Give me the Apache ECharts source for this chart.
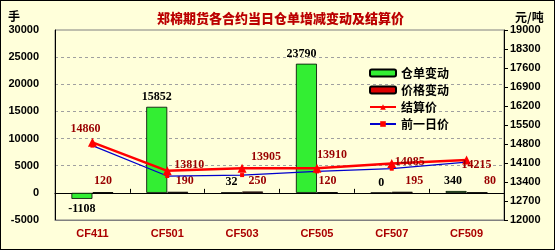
<!DOCTYPE html>
<html><head><meta charset="utf-8">
<script src="https://cdn.jsdelivr.net/npm/echarts@6/dist/echarts.min.js"></script>
<style>
html,body{margin:0;padding:0;background:#FFFFDA;}
#c{width:555px;height:250px;box-sizing:border-box;border:1px solid #000;}
</style></head>
<body><div id="c"></div>
<script>
var categories = ['CF411','CF501','CF503','CF505','CF507','CF509'];
var warrantChange = [-1108, 15852, 32, 23790, 0, 340];
var priceChange = [120, 190, 250, 120, 195, 80];
var settlePrice = [14860, 13810, 13905, 13910, 14085, 14215];
var prevPrice = [14740, 13620, 13655, 13790, 13890, 14135];
var leftTicks = {min: -5000, max: 30000, interval: 5000};
var rightTicks = {min: 12000, max: 19000, interval: 700};

// label styling (not data)
var settleLabelOffsets = [[-7,-13],[22,-6],[24,-11],[15,-13],[18,-2],[10,5]];
var warrantLabelOffsets = [[0,0],[0,0],[0,0],[-5,0],[0,0],[-3,0]];
var priceLabelOffsets = [[0,0],[7,0],[5,0],[0,0],[12,0],[13,0]];

var numFont = 'Liberation Serif';
var labelBase = {fontFamily: numFont, fontWeight: 'bold', fontSize: 12};
function plain(v) { return String(v); }

var chart = echarts.init(document.getElementById('c'));
chart.setOption({
  backgroundColor: '#FFFFDA',
  animation: false,
  title: {
    text: '郑棉期货各合约当日仓单增减变动及结算价',
    left: 151, top: 6,
    textStyle: {color: '#BB0000', fontSize: 13, fontWeight: 900, fontFamily: 'Noto Sans CJK SC'}
  },
  graphic: [
    {type: 'text', left: 7, top: 9, style: {text: '手', fontSize: 12, fontWeight: 'bold', fontFamily: 'Noto Sans CJK SC', fill: '#000'}},
    {type: 'text', left: 514, top: 10, style: {text: '元/吨', fontSize: 12, fontWeight: 'bold', fontFamily: 'Noto Sans CJK SC', fill: '#000'}}
  ],
  legend: {
    orient: 'vertical', left: 363, top: 61,
    itemWidth: 26, itemHeight: 7, itemGap: 5,
    textStyle: {fontSize: 12, fontWeight: 'bold', fontFamily: 'Noto Sans CJK SC', color: '#000'},
    data: ['仓单变动','价格变动','结算价',{name: '前一日价', itemStyle: {color: '#FF0000'}}]
  },
  grid: {left: 54, right: 50, top: 29, bottom: 29, show: true, borderColor: '#808080', borderWidth: 1, backgroundColor: 'transparent'},
  xAxis: [
    {type: 'category', data: categories, position: 'bottom',
     axisLine: {onZero: false, lineStyle: {color: '#808080'}},
     axisTick: {show: false},
     axisLabel: {color: '#AA0000', fontWeight: 'bold', fontSize: 11, fontFamily: 'Liberation Sans', margin: 8}},
    {type: 'category', data: categories, position: 'bottom',
     axisLine: {onZero: true, onZeroAxisIndex: 0, lineStyle: {color: '#000', width: 1}},
     axisTick: {show: true, inside: true, length: 4, lineStyle: {color: '#000'}},
     axisLabel: {show: false}}
  ],
  yAxis: [
    {type: 'value', min: leftTicks.min, max: leftTicks.max, interval: leftTicks.interval,
     axisLine: {show: true, onZero: false, lineStyle: {color: '#000'}},
     axisTick: {show: false},
     axisLabel: {color: '#000', fontWeight: 'bold', fontSize: 11, fontFamily: 'Liberation Sans', margin: 16, formatter: plain},
     splitLine: {show: true, showMinLine: false, showMaxLine: false, lineStyle: {color: '#A0A0A0', type: [3,3]}}},
    {type: 'value', min: rightTicks.min, max: rightTicks.max, interval: rightTicks.interval, position: 'right',
     axisLine: {show: true, onZero: false, lineStyle: {color: '#000'}},
     axisTick: {show: true, length: 4, lineStyle: {color: '#000'}},
     axisLabel: {color: '#000', fontWeight: 'bold', fontSize: 11, fontFamily: 'Liberation Sans', margin: 6, formatter: plain},
     splitLine: {show: false}}
  ],
  series: [
    {name: '仓单变动', type: 'bar', xAxisIndex: 0, yAxisIndex: 0, barWidth: 21, barGap: '0%',
     itemStyle: {color: '#33EE33', borderColor: '#000', borderWidth: 0.8},
     label: Object.assign({show: true, position: 'top', distance: 4, color: '#000'}, labelBase),
     data: warrantChange.map(function (v, i) {
       return {value: v, label: {position: v < 0 ? 'bottom' : 'top', offset: warrantLabelOffsets[i]}};
     })},
    {name: '价格变动', type: 'bar', xAxisIndex: 0, yAxisIndex: 0, barWidth: 21, barGap: '0%',
     itemStyle: {color: '#DD0000', borderColor: '#000', borderWidth: 0.8},
     label: Object.assign({show: true, position: 'top', distance: 5, color: '#990000'}, labelBase),
     data: priceChange.map(function (v, i) {
       return {value: v, label: {offset: priceLabelOffsets[i]}};
     })},
    {name: '前一日价', type: 'line', xAxisIndex: 0, yAxisIndex: 1,
     symbol: 'rect', symbolSize: 4, z: 3,
     itemStyle: {color: '#FF0000'},
     lineStyle: {color: '#0000CC', width: 1.2},
     data: prevPrice},
    {name: '结算价', type: 'line', xAxisIndex: 0, yAxisIndex: 1,
     symbol: 'triangle', symbolSize: 9, z: 4,
     itemStyle: {color: '#FF0000'},
     lineStyle: {color: '#FF0000', width: 2.5},
     label: Object.assign({show: true, position: 'inside', color: '#990000'}, labelBase),
     data: settlePrice.map(function (v, i) {
       return {value: v, label: {offset: settleLabelOffsets[i]}};
     })}
  ]
});
</script></body></html>
